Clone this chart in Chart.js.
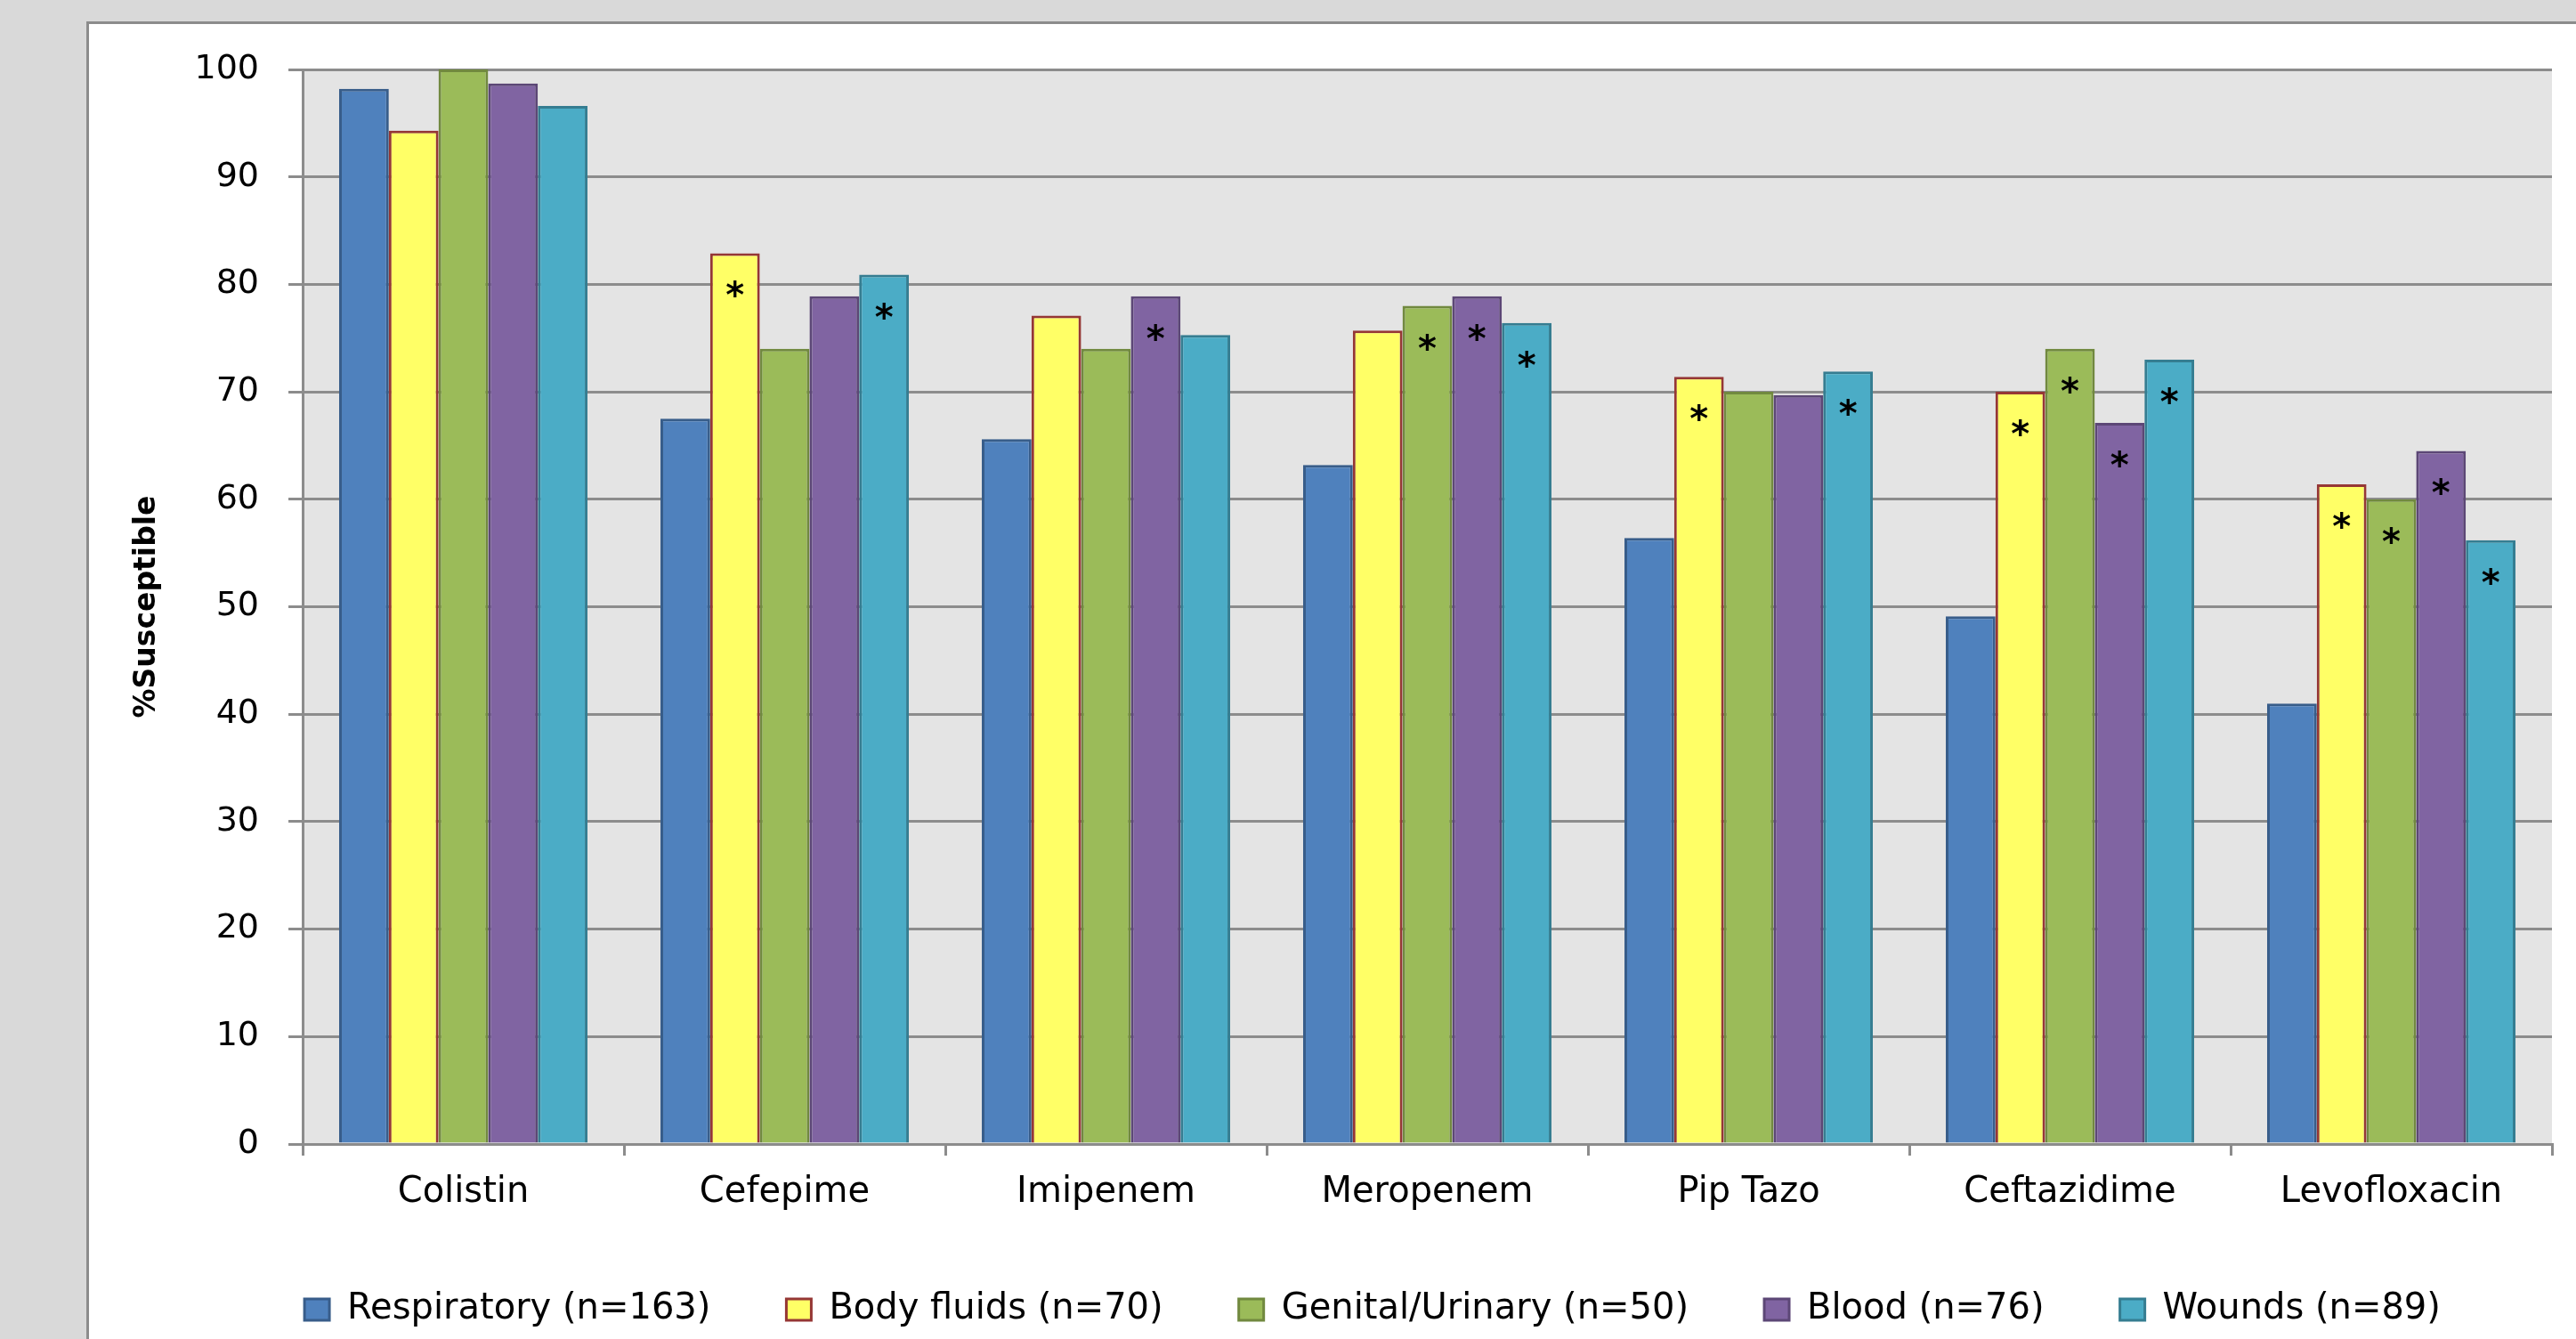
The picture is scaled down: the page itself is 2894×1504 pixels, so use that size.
<!DOCTYPE html>
<html>
<head>
<meta charset="utf-8">
<script src="https://cdn.jsdelivr.net/npm/chart.js@4.4.1/dist/chart.umd.min.js"></script>
<style>
  html, body { margin: 0; padding: 0; width: 2894px; height: 1504px; overflow: hidden; background: #d9d9d9; }
  #frame { position: absolute; left: 97px; top: 24px; width: 3000px; height: 1600px; background: #ffffff; border: 3px solid #8c8c8c; }
  #wrap { position: absolute; left: 0; top: 0; width: 2894px; height: 1504px; }
</style>
</head>
<body>
<div id="frame"></div>
<div id="wrap"><canvas id="chart"></canvas></div>
<script>
// Antibiotic susceptibility by specimen source
const categories = ['Colistin', 'Cefepime', 'Imipenem', 'Meropenem', 'Pip Tazo', 'Ceftazidime', 'Levofloxacin'];

const seriesLabels = ['Respiratory (n=163)', 'Body fluids (n=70)', 'Genital/Urinary (n=50)', 'Blood (n=76)', 'Wounds (n=89)'];

const respiratory    = [98.2, 67.5, 65.6, 63.2, 56.4, 49.1, 41.0];
const bodyFluids     = [94.3, 82.9, 77.1, 75.7, 71.4, 70.0, 61.4];
const genitalUrinary = [100.0, 74.0, 74.0, 78.0, 70.0, 74.0, 60.0];
const blood          = [98.7, 78.9, 78.9, 78.9, 69.7, 67.1, 64.5];
const wounds         = [96.6, 80.9, 75.3, 76.4, 71.9, 73.0, 56.2];

// 1 = marked with an asterisk (significant difference vs. respiratory)
const respiratorySig    = [0, 0, 0, 0, 0, 0, 0];
const bodyFluidsSig     = [0, 1, 0, 0, 1, 1, 1];
const genitalUrinarySig = [0, 0, 0, 1, 0, 1, 1];
const bloodSig          = [0, 0, 1, 1, 0, 1, 1];
const woundsSig         = [0, 1, 0, 1, 1, 1, 1];

const yTicks = [0, 10, 20, 30, 40, 50, 60, 70, 80, 90, 100];

const FONT = "'DejaVu Sans', 'Liberation Sans', sans-serif";
Chart.defaults.color = '#000';
Chart.defaults.font.family = FONT;

const fills   = ['#4f81bd', '#ffff66', '#9bbb59', '#8064a2', '#4bacc6'];
const borders = ['#385d8a', '#953735', '#71893f', '#5c4776', '#357d91'];
const values  = [respiratory, bodyFluids, genitalUrinary, blood, wounds];
const sigs    = [respiratorySig, bodyFluidsSig, genitalUrinarySig, bloodSig, woundsSig];

// Light grey fill behind the plotting area
const plotBackground = {
  id: 'plotBackground',
  beforeDraw(chart, args, opts) {
    const { ctx, chartArea: a } = chart;
    ctx.save();
    ctx.fillStyle = opts.color;
    ctx.fillRect(a.left, a.top, a.right - a.left, a.bottom - a.top);
    ctx.restore();
  }
};

// Asterisks placed just inside the top of flagged bars
const significanceMarks = {
  id: 'significanceMarks',
  afterDatasetsDraw(chart, args, opts) {
    const { ctx } = chart;
    ctx.save();
    ctx.font = opts.font;
    ctx.fillStyle = opts.color;
    ctx.textAlign = 'center';
    ctx.textBaseline = 'alphabetic';
    chart.data.datasets.forEach((ds, d) => {
      const flags = ds.significant || [];
      chart.getDatasetMeta(d).data.forEach((bar, i) => {
        if (flags[i]) ctx.fillText('*', bar.x, bar.y + opts.drop);
      });
    });
    ctx.restore();
  }
};

// Legend row placement: centred at centerX, first row of items starting at rowTop
const legendPlacement = {
  id: 'legendPlacement',
  afterLayout(chart, args, opts) {
    const lg = chart.legend;
    if (!lg) return;
    const dx = opts.centerX - (lg.left + lg.right) / 2;
    lg.left += dx;
    lg.right += dx;
    lg.top = opts.rowTop - lg.options.labels.padding;
    lg.bottom = chart.height;
    lg.height = lg.bottom - lg.top;
  }
};

const datasets = seriesLabels.map((label, k) => ({
  label,
  data: values[k],
  significant: sigs[k],
  backgroundColor: fills[k],
  borderColor: borders[k],
  borderWidth: 3,
  categoryPercentage: 0.773,
  barPercentage: 1.0
}));

new Chart(document.getElementById('chart'), {
  type: 'bar',
  data: { labels: categories, datasets },
  plugins: [plotBackground, significanceMarks, legendPlacement],
  options: {
    responsive: true,
    maintainAspectRatio: false,
    animation: false,
    layout: { padding: { left: 141.9, top: 78, right: 27, bottom: 3 } },
    plugins: {
      legend: {
        position: 'bottom',
        maxHeight: 119,
        labels: {
          boxWidth: 28,
          boxHeight: 24,
          padding: 85,
          color: '#000',
          font: { size: 40, family: FONT }
        }
      },
      tooltip: { enabled: false },
      plotBackground: { color: '#e4e4e4' },
      significanceMarks: { font: 'bold 40px ' + FONT, color: '#000', drop: 61 },
      legendPlacement: { centerX: 1542, rowTop: 1451 }
    },
    scales: {
      x: {
        grid: { offset: true, drawOnChartArea: false, drawTicks: true, tickLength: 13, color: '#8c8c8c', lineWidth: 3 },
        border: { display: true, color: '#8c8c8c', width: 3 },
        ticks: { font: { size: 40 }, padding: 18, maxRotation: 0, minRotation: 0, autoSkip: false, color: '#000' }
      },
      y: {
        min: yTicks[0],
        max: yTicks[yTicks.length - 1],
        afterBuildTicks(scale) { scale.ticks = yTicks.map(v => ({ value: v })); },
        ticks: { font: { size: 38 }, padding: 33, color: '#000' },
        grid: { color: '#8c8c8c', lineWidth: 3, tickLength: 16, drawTicks: true },
        border: { display: true, color: '#8c8c8c', width: 3 },
        title: {
          display: true,
          text: '%Susceptible',
          color: '#000',
          font: { size: 33, weight: 'bold' },
          padding: { top: 4, bottom: 0 }
        }
      }
    }
  }
});
</script>
</body>
</html>
